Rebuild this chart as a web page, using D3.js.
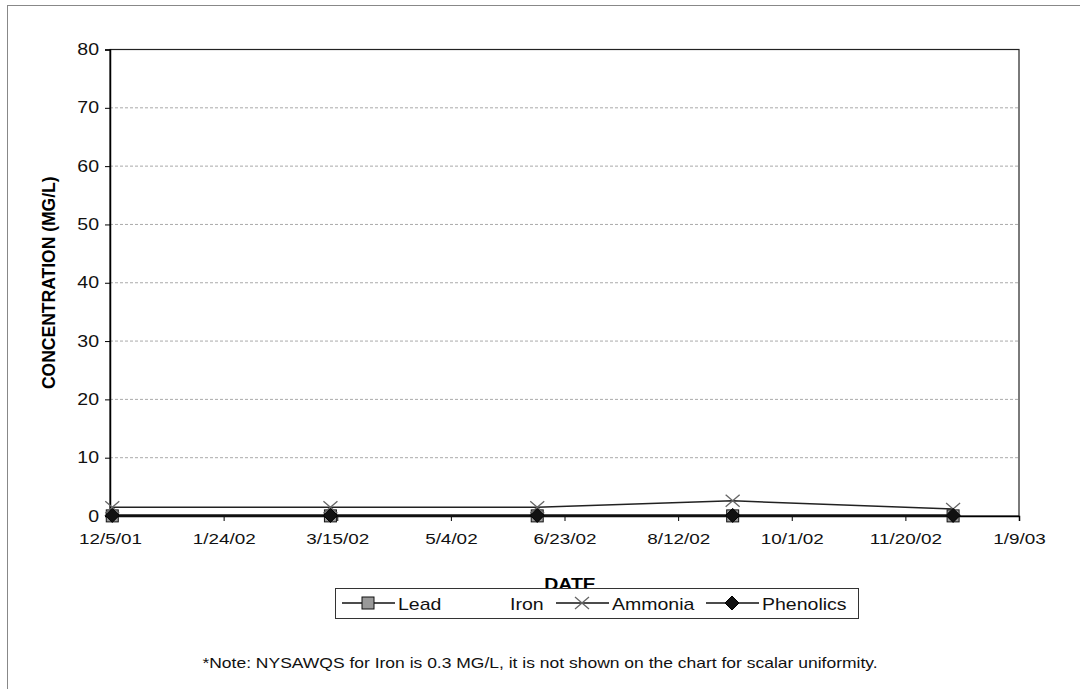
<!DOCTYPE html>
<html><head><meta charset="utf-8">
<script src="https://cdn.jsdelivr.net/npm/d3@7"></script>
<style>body{margin:0;background:#fff;} text{font-family:"Liberation Sans",Arial,sans-serif;}</style>
</head><body>
<svg id="c" width="1080" height="689"></svg>
<script>
const dates = ["2001-12-06","2002-03-12","2002-06-11","2002-09-05","2002-12-11"];
const leadVals = [0.02, 0.02, 0.02, 0.02, 0.02];
const ironVals = [null, null, null, null, null];
const ammoniaVals = [1.5, 1.5, 1.5, 2.6, 1.2];
const phenolicsVals = [0.1, 0.1, 0.1, 0.1, 0.1];
const xTickLabels = ["12/5/01","1/24/02","3/15/02","5/4/02","6/23/02","8/12/02","10/1/02","11/20/02","1/9/03"];
const yTicks = [0,10,20,30,40,50,60,70,80];
const seriesNames = ["Lead","Iron","Ammonia","Phenolics"];

const SX = 1.22; // horizontal stretch of the scanned original
const svg = d3.select("#c");
const parse = d3.timeParse("%Y-%m-%d");
const L = 110, R = 1019, T = 49.5, B = 516;
const x0 = parse("2001-12-05"), x1 = parse("2003-01-09");
const x = d3.scaleTime().domain([x0, x1]).range([L, R]);
const y = d3.scaleLinear().domain([0, 80]).range([B, T]);

// outer frame
svg.append("rect").attr("x",7.5).attr("y",5.5).attr("width",1090).attr("height",700)
  .attr("fill","none").attr("stroke","#888").attr("stroke-width",1);

// gridlines
svg.append("g").selectAll("line").data(yTicks.filter(d=>d>0 && d<80)).join("line")
  .attr("x1",L).attr("x2",R).attr("y1",d=>y(d)).attr("y2",d=>y(d))
  .attr("stroke","#aaa").attr("stroke-width",1).attr("stroke-dasharray","3,2");

// plot box
svg.append("rect").attr("x",L).attr("y",T).attr("width",R-L).attr("height",B-T)
  .attr("fill","none").attr("stroke","#222").attr("stroke-width",1.2);

// y axis
const yAxis = d3.axisLeft(y).tickValues(yTicks).tickSize(5).tickFormat(d3.format("d"));
const gy = svg.append("g").attr("transform",`translate(${L},0)`).call(yAxis);
gy.select(".domain").attr("stroke","#000").attr("stroke-width",1.5);
gy.selectAll("text").attr("font-size",16).attr("fill","#111").attr("x",-11/SX)
  .attr("transform",`scale(${SX},1)`);

// x axis
const xTickDates = xTickLabels.map((d,i)=>d3.timeDay.offset(x0, i*50));
const xAxis = d3.axisBottom(x).tickValues(xTickDates).tickSize(5)
  .tickFormat((d,i)=>xTickLabels[i]);
const gx = svg.append("g").attr("transform",`translate(0,${B})`).call(xAxis);
gx.select(".domain").attr("stroke","#000").attr("stroke-width",1.5);
gx.selectAll("text").attr("font-size",15.5).attr("fill","#111").attr("dy","20px")
  .attr("transform",`scale(${SX},1)`);

// axis titles
svg.append("text").attr("transform",`translate(55,${(T+B)/2}) rotate(-90)`)
  .attr("text-anchor","middle").attr("font-size",17.5).attr("font-weight","bold")
  .attr("font-family","DejaVu Sans").text("CONCENTRATION (MG/L)");
svg.append("text").attr("transform",`translate(570,590) scale(${SX},1)`).attr("text-anchor","middle")
  .attr("font-size",16).attr("font-weight","bold").text("DATE");

const line = vals => d3.line().defined(d=>d.v!=null).x(d=>x(d.d)).y(d=>y(d.v))(dates.map((d,i)=>({d:parse(d),v:vals[i]})));
const pts = vals => dates.map((d,i)=>({d:parse(d),v:vals[i]})).filter(p=>p.v!=null);

svg.append("path").attr("d",line(ammoniaVals)).attr("fill","none").attr("stroke","#222").attr("stroke-width",1.5);
svg.append("path").attr("d",line(leadVals)).attr("fill","none").attr("stroke","#111").attr("stroke-width",2);
svg.append("path").attr("d",line(phenolicsVals)).attr("fill","none").attr("stroke","#111").attr("stroke-width",2.5);

function drawSquare(g,cx,cy){g.append("rect").attr("x",cx-6).attr("y",cy-6).attr("width",12).attr("height",12).attr("fill","#999").attr("stroke","#111").attr("stroke-width",1);}
function drawX(g,cx,cy){g.append("path").attr("d",`M${cx-7},${cy-6}L${cx+7},${cy+6}M${cx+7},${cy-6}L${cx-7},${cy+6}`).attr("stroke","#666").attr("stroke-width",1.3);}
function drawDiamond(g,cx,cy){g.append("path").attr("d",`M${cx},${cy-7}L${cx+7},${cy}L${cx},${cy+7}L${cx-7},${cy}Z`).attr("fill","#111").attr("stroke","#000");}

const mk = svg.append("g");
pts(leadVals).forEach(p=>drawSquare(mk,x(p.d),y(p.v)));
pts(ammoniaVals).forEach(p=>drawX(mk,x(p.d),y(p.v)));
pts(phenolicsVals).forEach(p=>drawDiamond(mk,x(p.d),y(p.v)));

// legend
const lg = svg.append("g");
lg.append("rect").attr("x",335.5).attr("y",588.5).attr("width",523).attr("height",30)
  .attr("fill","#fff").attr("stroke","#333").attr("stroke-width",1);
const ly = 603;
const items = [
  {name:seriesNames[0], tx:398, m:drawSquare, line:true},
  {name:seriesNames[1], tx:510, m:null, line:false},
  {name:seriesNames[2], tx:612, m:drawX, line:true},
  {name:seriesNames[3], tx:762, m:drawDiamond, line:true}
];
items.forEach(it=>{
  if(it.line){
    const lx = it.tx - 56;
    lg.append("line").attr("x1",lx).attr("x2",lx+53).attr("y1",ly).attr("y2",ly).attr("stroke","#111").attr("stroke-width",1.5);
    it.m(lg,lx+26,ly);
  }
  lg.append("text").attr("transform",`translate(${it.tx},${ly+6.5}) scale(${SX},1)`)
    .attr("font-size",16).attr("fill","#111").text(it.name);
});

svg.append("text").attr("transform",`translate(540,668) scale(1.25,1)`).attr("text-anchor","middle")
  .attr("font-size",14).attr("fill","#111")
  .text("*Note: NYSAWQS for Iron is 0.3 MG/L, it is not shown on the chart for scalar uniformity.");
</script>
</body></html>
